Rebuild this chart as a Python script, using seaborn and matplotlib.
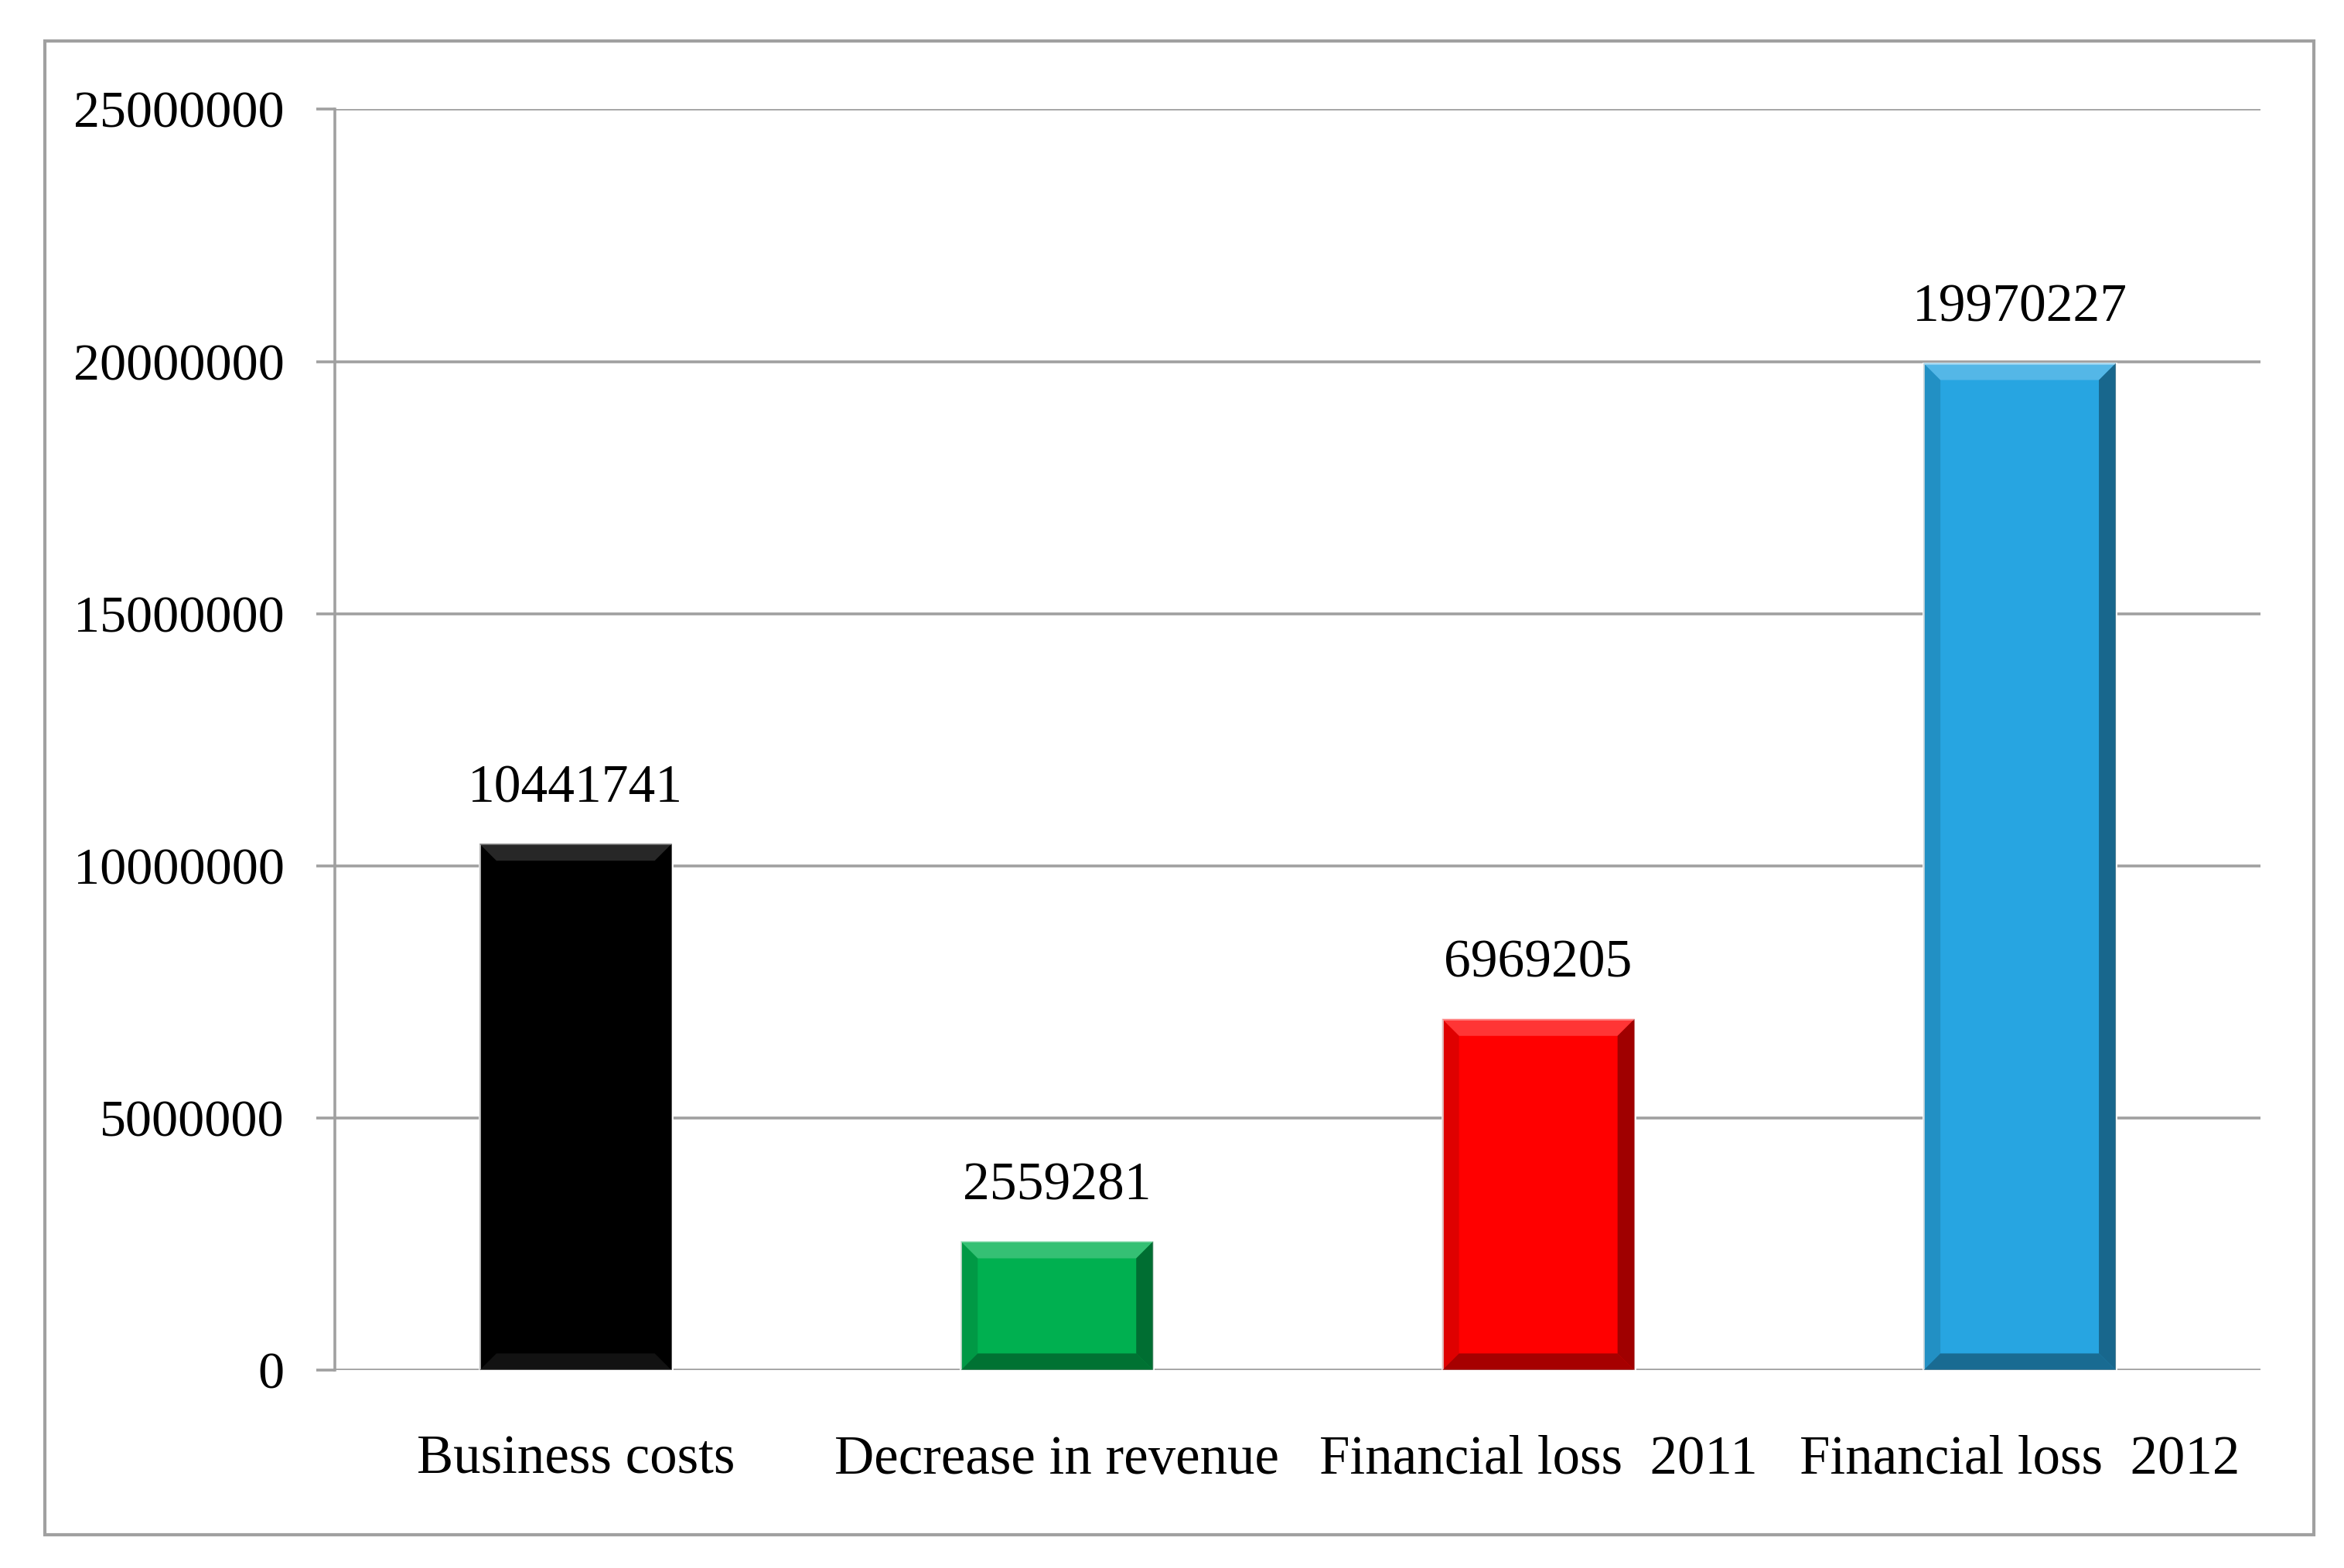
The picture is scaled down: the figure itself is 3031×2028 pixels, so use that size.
import matplotlib
matplotlib.use("Agg")
import matplotlib.pyplot as plt
import matplotlib.colors as mcolors
from matplotlib.patches import Polygon, Rectangle
import pandas as pd
import seaborn as sns

# data
categories = ["Business costs", "Decrease in revenue", "Financial loss  2011", "Financial loss  2012"]
values = [10441741, 2559281, 6969205, 19970227]
bar_colors = ["#000000", "#00B050", "#FF0000", "#27A5E1"]
y_ticks = [0, 5000000, 10000000, 15000000, 20000000, 25000000]

df = pd.DataFrame({"category": categories, "value": values})

sns.set_style("white")
plt.rcParams["font.family"] = ["Liberation Serif", "DejaVu Serif"]
plt.rcParams["text.color"] = "black"
plt.rcParams["xtick.labelcolor"] = "black"
plt.rcParams["ytick.labelcolor"] = "black"

fig = plt.figure(figsize=(15.155, 10.14), dpi=200)
ax = fig.add_axes([0.1429, 0.126, 0.8214, 0.8043])

sns.barplot(data=df, x="category", y="value", hue="category",
            palette=bar_colors, width=0.4, legend=False, ax=ax, saturation=1)

ax.set_ylim(0, 25000000)
ax.set_xlim(-0.5, 3.5)
ax.set_yticks(y_ticks)
ax.set_yticklabels([str(t) for t in y_ticks])
ax.yaxis.grid(True, color="#A0A0A0", linewidth=1.3)
ax.set_axisbelow(True)
for s in ["top", "right", "bottom"]:
    ax.spines[s].set_visible(False)
ax.spines["left"].set_color("#A0A0A0")
ax.spines["left"].set_linewidth(1.3)
ax.tick_params(axis="y", length=8.5, width=1.3, color="#A0A0A0", pad=15, labelsize=24.5,
               direction="out", left=True, labelcolor="black")
ax.tick_params(axis="x", length=0, pad=30, labelsize=25.5, labelcolor="black")
ax.set_xlabel("")
ax.set_ylabel("")

# bevel effect on each bar, built from the bar geometry
fig.canvas.draw()
inv = ax.transData.inverted()
o = inv.transform((0, 0))
p = inv.transform((22, 22))
bx, by = p[0] - o[0], p[1] - o[1]
for patch, c in zip(ax.patches, bar_colors):
    x0, y0 = patch.get_x(), patch.get_y()
    w, h = patch.get_width(), patch.get_height()
    x1, y1 = x0 + w, y0 + h
    base = mcolors.to_rgb(c)
    if c == "#000000":
        light = (0.22, 0.22, 0.22)
    else:
        light = tuple(min(1, v * 0.7 + 0.3) for v in base)
    dark = tuple(v * 0.5 for v in base)
    top = Polygon([(x0, y1), (x1, y1), (x1 - bx, y1 - by), (x0 + bx, y1 - by)],
                  closed=True, color=light, alpha=0.7, lw=0, zorder=3)
    bottom = Polygon([(x0, y0), (x1, y0), (x1 - bx, y0 + by), (x0 + bx, y0 + by)],
                     closed=True, color=dark if c != "#000000" else (0.1, 0.1, 0.1),
                     alpha=0.7, lw=0, zorder=3)
    right = Polygon([(x1, y0), (x1, y1), (x1 - bx, y1 - by), (x1 - bx, y0 + by)],
                    closed=True, color=dark, alpha=0.75, lw=0, zorder=3)
    left = Polygon([(x0, y0), (x0, y1), (x0 + bx, y1 - by), (x0 + bx, y0 + by)],
                   closed=True, color=dark, alpha=0.25, lw=0, zorder=3)
    for poly in (top, bottom, right, left):
        ax.add_patch(poly)

for patch, v in zip(ax.patches[:len(values)], values):
    ax.annotate(str(v), (patch.get_x() + patch.get_width() / 2, patch.get_height()),
                xytext=(0, 14), textcoords="offset points",
                ha="center", va="bottom", fontsize=25, color="black")

# outer chart frame
fig.patches.append(Rectangle((0.0191, 0.021), 0.968, 0.953, transform=fig.transFigure,
                             fill=False, edgecolor="#A0A0A0", linewidth=1.5))

fig.savefig("out.png", dpi=200)
